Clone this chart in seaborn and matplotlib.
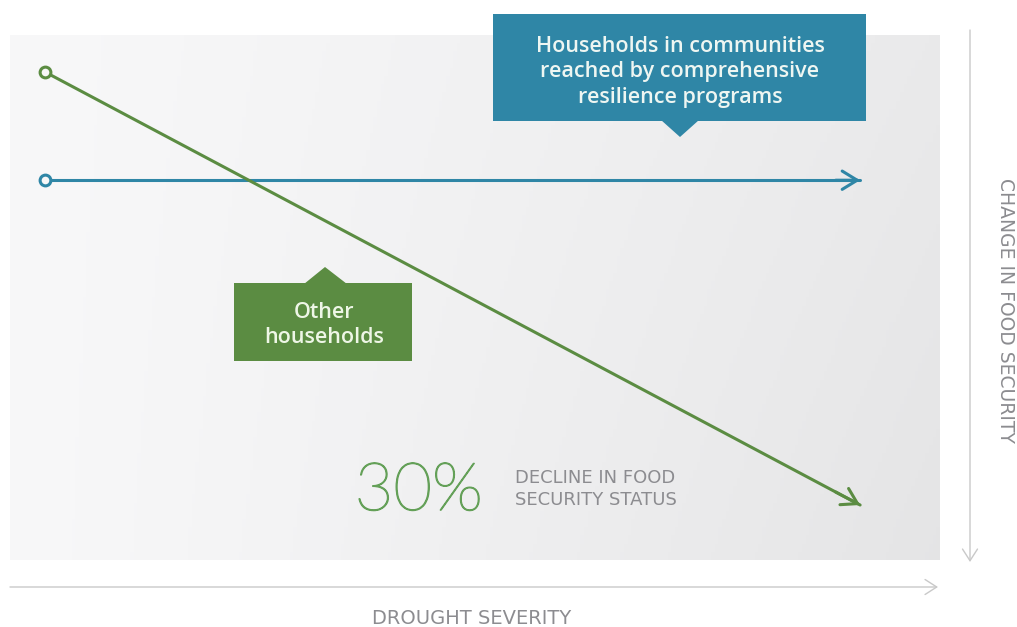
import numpy as np
import pandas as pd
import matplotlib
matplotlib.use("Agg")
import matplotlib.pyplot as plt
import matplotlib.patheffects as pe
from matplotlib.patches import Rectangle, Polygon
import seaborn as sns

# ---- data ----
drought_severity = [0.0, 1.0]
food_security_programs = [92.5, 92.5]     # households reached by resilience programs
food_security_others = [100.0, 70.0]      # other households: 30% decline
series_labels = ["Households in communities\nreached by comprehensive\nresilience programs",
                 "Other\nhouseholds"]
decline_pct = "30%"
decline_text = "DECLINE IN FOOD\nSECURITY STATUS"
x_label = "DROUGHT SEVERITY"
y_label = "CHANGE IN FOOD SECURITY"

BLUE = "#2F86A6"
GREEN = "#5B8C42"
GREEN_TXT = "#64A058"
GRAY_TXT = "#8C8C90"
AXIS_GRAY = "#C9C9C9"

sns.set_theme(style="white")
plt.rcParams["font.family"] = ["Lato", "DejaVu Sans"]

W, H = 1017, 627
fig = plt.figure(figsize=(W / 100, H / 100), dpi=100)
fig.patch.set_facecolor("white")

# main plotting axes = grey panel
px_l, px_r, px_t, px_b = 10, 940, 35, 560
ax = fig.add_axes([px_l / W, (H - px_b) / H, (px_r - px_l) / W, (px_b - px_t) / H])
ax.set_xlim(-0.0429, 1.098)
ax.set_ylim(66.19, 102.56)
ax.axis("off")

# gradient background
gx = np.linspace(0, 1, 256)
gy = np.linspace(0, 1, 64)
GX, GY = np.meshgrid(gx, gy)
val = 0.972 - 0.055 * GX ** 1.2 - 0.02 * GY * GX
rgb = np.dstack([val, val, val + 0.004])
ax.imshow(np.clip(rgb, 0, 1), extent=[0, 1, 0, 1], transform=ax.transAxes,
          aspect="auto", zorder=0, origin="upper")

df = pd.DataFrame({
    "severity": drought_severity * 2,
    "security": food_security_programs + food_security_others,
    "group": ["programs"] * 2 + ["others"] * 2,
})
sns.lineplot(data=df, x="severity", y="security", hue="group",
             palette={"programs": BLUE, "others": GREEN}, linewidth=2.2,
             legend=False, ax=ax, zorder=3)

for ys, col in [(food_security_programs, BLUE), (food_security_others, GREEN)]:
    ax.scatter([drought_severity[0]], [ys[0]], s=60, facecolor="#f7f7f7",
               edgecolor=col, linewidth=2.2, zorder=5)
    x0, x1 = drought_severity[-2], drought_severity[-1]
    y0, y1 = ys[-2], ys[-1]
    t = 0.97
    ax.annotate("", xy=(x1, y1), xytext=(x0 + t * (x1 - x0), y0 + t * (y1 - y0)),
                arrowprops=dict(arrowstyle="->,head_length=0.9,head_width=0.55",
                                color=col, lw=2.2, shrinkA=0, shrinkB=0),
                zorder=4)

ax.text(0.38, 69.65, decline_pct, fontsize=48, color=GREEN_TXT, fontweight="light",
        ha="left", va="baseline", zorder=4,
        path_effects=[pe.withStroke(linewidth=1.0, foreground=GREEN_TXT)])
ax.text(0.5767, 71.1, decline_text, fontsize=13, color=GRAY_TXT, ha="left",
        va="center", linespacing=1.25, family="DejaVu Sans", zorder=4)

# overlay axes in pixel coords for callouts and axis arrows
ov = fig.add_axes([0, 0, 1, 1])
ov.set_xlim(0, W)
ov.set_ylim(H, 0)
ov.axis("off")
ov.patch.set_alpha(0)

# blue callout
ov.add_patch(Rectangle((493, 14), 373, 107, facecolor=BLUE, edgecolor="none", zorder=6))
ov.add_patch(Polygon([(661, 120), (699, 120), (680, 137)], closed=True,
                     facecolor=BLUE, edgecolor="none", zorder=6))
ov.text(680, 72, series_labels[0], ha="center", va="center", color="#EEF6F2",
        fontsize=15.5, fontweight="semibold", family=["Open Sans", "DejaVu Sans"],
        linespacing=1.25, zorder=7)

# green callout
ov.add_patch(Rectangle((234, 283), 178, 78, facecolor=GREEN, edgecolor="none", zorder=6))
ov.add_patch(Polygon([(304, 284), (347, 284), (325, 267)], closed=True,
                     facecolor=GREEN, edgecolor="none", zorder=6))
ov.text(324, 325, series_labels[1], ha="center", va="center", color="#EEF6E6",
        fontsize=15.5, fontweight="semibold", family=["Open Sans", "DejaVu Sans"],
        linespacing=1.25, zorder=7)

# axis arrows
ov.annotate("", xy=(938, 587), xytext=(10, 587),
            arrowprops=dict(arrowstyle="->,head_length=0.7,head_width=0.45",
                            color=AXIS_GRAY, lw=1.0, shrinkA=0, shrinkB=0))
ov.annotate("", xy=(970, 562), xytext=(970, 30),
            arrowprops=dict(arrowstyle="->,head_length=0.7,head_width=0.45",
                            color=AXIS_GRAY, lw=1.0, shrinkA=0, shrinkB=0))
ov.text(472, 619, x_label, ha="center", va="center", color=GRAY_TXT, fontsize=14,
        family="DejaVu Sans")
ov.text(1006, 310, y_label, ha="center", va="center", color=GRAY_TXT, fontsize=13.5,
        family="DejaVu Sans", rotation=-90)

fig.savefig("out.png", dpi=100, facecolor="white")
